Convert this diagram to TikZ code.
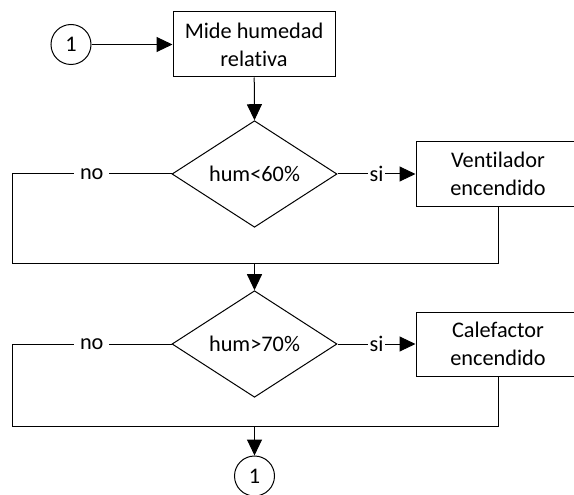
\documentclass[tikz,border=0pt]{standalone}
\usepackage{fontspec}
\setmainfont{Carlito}[Ligatures=NoCommon]
\usetikzlibrary{arrows.meta,shapes.geometric}
\begin{document}
\begin{tikzpicture}[x=1pt,y=-1pt,
  font=\fontsize{22.3}{28}\selectfont,
  conn/.style={draw, line width=1pt},
  arr/.style={conn, -{Triangle[length=16pt,width=15pt]}},
  procbox/.style={draw, line width=1pt, rectangle, align=center, inner sep=0pt},
  decision/.style={draw, line width=1pt, diamond, inner sep=0pt,
    minimum width=165pt, minimum height=98pt},
  connector/.style={draw, line width=1pt, circle, inner sep=0pt, minimum size=40pt},
  lbl/.style={fill=white, inner ysep=2pt}
]
\useasboundingbox (0,0) rectangle (574,495);
\clip (0,0) rectangle (574,495);

% blocks
\node[connector] (c1) at (71,44.5) {1};
\node[procbox, minimum width=162pt, minimum height=65pt] (b1) at (254,44.5)
  {Mide humedad\\relativa};
\node[decision] (d1) at (254.5,174) {hum<60\%};
\node[procbox, minimum width=164pt, minimum height=64pt] (b2) at (498,174)
  {Ventilador\\encendido};
\node[decision] (d2) at (254.5,344) {hum>70\%};
\node[procbox, minimum width=164pt, minimum height=64pt] (b3) at (498,344)
  {Calefactor\\encendido};
\node[connector] (c2) at (254.5,476) {1};

% corners of the bypass loops
\coordinate (n1) at (12,174);
\coordinate (m1) at (12,263);
\coordinate (j1) at (254.5,263);
\coordinate (n2) at (12,344);
\coordinate (m2) at (12,426);
\coordinate (j2) at (254.5,426);

% flow
\draw[arr] (c1) -- (b1);
\draw[arr] (b1) -- (d1.north);
\draw[arr] (d1.east) -- node[lbl, inner xsep=2pt]{si} (b2.west);
\draw[conn] (d1.west) -- node[lbl, inner xsep=6pt]{no} (n1) -- (m1) -| (b2.south);
\draw[arr] (j1) -- (d2.north);
\draw[arr] (d2.east) -- node[lbl, inner xsep=2pt]{si} (b3.west);
\draw[conn] (d2.west) -- node[lbl, inner xsep=6pt]{no} (n2) -- (m2) -| (b3.south);
\draw[arr] (j2) -- (c2.north);
\end{tikzpicture}
\end{document}
